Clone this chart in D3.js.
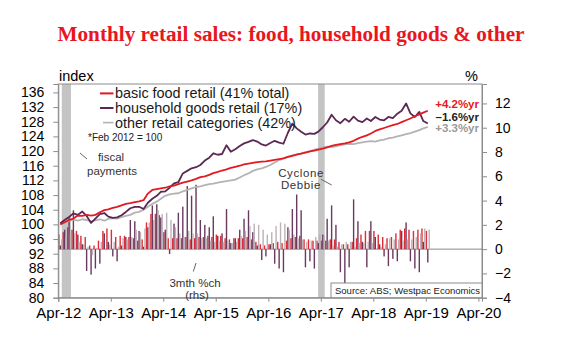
<!DOCTYPE html>
<html><head><meta charset="utf-8">
<script src="https://cdn.jsdelivr.net/npm/d3@7"></script>
<style>
body{margin:0;background:#fff;}
svg{display:block;}
text{font-family:"Liberation Sans",Arial,sans-serif;}
</style>
</head><body>
<svg id="c" width="580" height="352"></svg>
<script>
// ---------- DATA ----------
const firstMonth = [2012, 3]; // Apr 2012 (monthly data, plotted mid-month)
const seriesNames = ["basic food retail (41% total)", "household goods retail (17%)", "other retail categories (42%)"];
const endLabels = ["+4.2%yr", "\u20131.6%yr", "+3.3%yr"];

const foodIndex = [100.0,100.6,101.2,101.6,102.4,102.3,102.6,102.4,102.6,103.3,103.9,104.1,104.5,104.8,105.2,105.6,105.8,106.1,106.3,106.6,
  108.4,109.4,109.6,109.8,110.0,110.4,110.6,111.0,111.4,111.7,112.0,112.4,112.9,113.1,113.5,114.0,114.3,114.7,115.0,115.4,
  115.7,116.0,116.4,116.6,116.8,117.0,117.1,117.2,117.4,117.6,117.8,118.0,118.4,118.7,119.0,119.3,119.6,119.9,120.1,120.4,
  120.7,121.0,121.4,121.7,121.9,122.1,122.4,122.8,123.4,123.9,124.3,124.8,125.5,125.9,126.3,126.7,127.1,127.4,127.9,128.4,
  128.9,129.5,130.0,130.5,131.0];
const householdIndex = [100.3,101.2,102.0,103.0,102.6,103.5,102.3,100.4,101.6,102.8,103.1,102.1,101.8,101.9,102.5,103.4,104.4,104.8,104.8,104.2,
  105.9,107.0,107.8,108.9,109.0,110.0,111.2,111.5,113.9,114.6,115.3,115.6,116.2,117.4,118.2,119.4,119.0,119.2,121.6,119.8,
  120.5,121.4,122.1,122.5,123.0,122.6,121.8,121.5,122.2,122.8,122.3,122.0,125.0,127.5,126.2,125.3,124.5,124.8,124.7,125.3,
  126.5,127.8,129.9,128.4,127.6,128.8,128.0,129.4,128.3,127.9,128.9,128.2,129.3,128.6,128.4,129.3,129.0,130.2,131.0,133.0,
  130.3,129.3,130.7,128.2,127.5];
const otherIndex = [100.0,100.4,101.0,101.3,101.0,101.4,101.2,100.8,101.1,101.4,101.0,101.5,101.7,101.6,102.0,102.3,102.6,103.2,103.4,104.0,
  104.8,105.6,106.2,107.0,107.8,108.2,108.4,108.5,109.0,109.4,109.8,110.2,110.4,110.7,111.0,111.1,111.4,111.6,111.8,112.0,
  112.2,112.8,113.4,113.9,114.6,115.0,115.3,115.7,116.2,116.9,117.5,118.0,118.4,118.8,119.1,119.3,119.7,119.9,120.4,120.7,
  121.0,121.2,121.1,121.3,121.6,121.8,122.0,121.9,122.2,122.4,122.6,122.7,122.6,122.9,123.1,123.5,123.7,124.0,124.3,124.6,
  124.9,125.3,125.7,126.2,126.6];

// 3mth %ch (rhs)
const food3m = [1.2,1.4,1.8,1.6,1.5,1.1,1.0,0.3,0.3,0.7,1.5,1.7,1.6,1.0,1.1,1.1,1.0,0.9,0.7,0.8,
  2.2,2.9,2.9,2.8,1.4,0.9,0.9,0.9,0.9,1.0,0.8,0.9,1.0,1.0,1.1,1.0,1.2,1.1,0.9,0.8,
  0.9,0.9,0.9,1.0,0.8,0.6,0.4,0.3,0.4,0.5,0.6,0.5,0.7,0.9,1.0,1.1,0.8,0.8,0.7,0.7,
  0.7,0.7,0.8,0.8,0.6,0.4,0.4,0.6,0.9,1.2,1.5,1.5,1.5,1.2,1.0,0.9,1.0,1.3,1.6,1.7,
  1.6,1.5,1.6,1.7,1.5];
const household3m = [0.3,1.6,2.6,3.2,1.2,0.4,-1.8,-2.1,-1.6,-1.2,1.3,0.6,-0.6,-1.0,0.3,1.0,2.4,2.3,1.5,0.2,
  1.8,3.6,3.7,2.6,1.6,-0.4,2.1,3.0,3.5,5.2,4.4,5.3,2.4,2.0,1.8,2.7,1.1,1.3,3.3,0.5,
  0.9,1.6,2.5,3.2,1.4,0.3,-0.9,-0.6,0.4,-1.2,-1.6,-1.9,1.8,3.3,4.5,3.2,-1.5,-1.0,-1.6,0.5,
  1.2,2.5,3.6,2.0,-1.9,-3.1,-1.5,4.1,2.3,0.6,-1.5,2.3,1.0,0.4,-0.6,-1.4,-0.8,-1.0,1.5,2.2,
  -1.0,-1.6,-1.9,0.6,-1.1];
const other3m = [0.8,1.0,1.3,1.3,0.6,0.4,0.2,-0.5,0.1,0.6,-0.1,0.4,0.6,0.2,0.9,0.8,1.0,1.6,1.4,1.7,
  2.2,2.4,3.2,2.9,3.0,2.4,1.8,1.3,1.0,1.5,1.3,1.3,0.9,0.9,0.7,0.6,0.7,0.6,0.7,0.5,
  0.6,1.1,1.5,1.9,2.1,2.0,1.6,1.2,1.4,1.9,2.2,2.1,1.6,1.2,0.9,0.8,0.6,0.7,1.0,1.2,
  1.1,0.7,0.3,0.2,0.4,0.6,0.6,0.2,0.5,0.5,0.6,0.5,0.0,0.2,0.4,0.9,0.8,0.8,0.7,0.8,
  0.8,1.0,1.3,1.7,1.6];

const xTickLabels = ["Apr-12","Apr-13","Apr-14","Apr-15","Apr-16","Apr-17","Apr-18","Apr-19","Apr-20"];
const leftTicks = [80,84,88,92,96,100,104,108,112,116,120,124,128,132,136];
const rightTicks = [-4,-2,0,2,4,6,8,10,12];
const shadedPeriods = [["2012-04-25","2012-06-28"],["2017-03-13","2017-04-28"]];

// ---------- STYLE / LAYOUT ----------
const colors = ["#e3191f", "#5c2752", "#b3b3b3"];
const L = 58.3, R = 482, T = 84, B = 297.7;
const svg = d3.select("#c");
const parse = d3.timeParse("%Y-%m-%d");

const x = d3.scaleTime().domain([new Date(2012,3,1), new Date(2020,3,26)]).range([L, R]);
const yL = d3.scaleLinear().domain([80, 138.3]).range([B, T]);
const yR = d3.scaleLinear().domain([-4, 13.6]).range([B, T]);
const monthDate = i => d3.timeMonth.offset(new Date(firstMonth[0], firstMonth[1], 15), i);

// title
svg.append("text").attr("x", 291).attr("y", 41).attr("text-anchor", "middle")
  .style("font-family", "'Liberation Serif','Times New Roman',serif").style("font-weight", "bold")
  .style("font-size", "21.2px").attr("fill", "#e8161e")
  .text("Monthly retail sales: food, household goods & other");

// shaded bands
svg.append("g").selectAll("rect").data(shadedPeriods).join("rect")
  .attr("x", d => x(parse(d[0]))).attr("width", d => x(parse(d[1])) - x(parse(d[0])))
  .attr("y", T).attr("height", B - T).attr("fill", "#c4c4c4");

// zero line (rhs)
svg.append("line").attr("x1", L).attr("x2", R).attr("y1", yR(0)).attr("y2", yR(0))
  .attr("stroke", "#8a8a8a").attr("stroke-width", 1);

// bars
const barSets = [food3m, household3m, other3m];
const bw = 1.4;
barSets.forEach((arr, s) => {
  svg.append("g").selectAll("rect").data(arr).join("rect")
    .attr("x", (d, i) => x(monthDate(i)) - 2.1 + s * 1.4)
    .attr("width", bw)
    .attr("y", d => yR(Math.max(0, d)))
    .attr("height", d => Math.abs(yR(d) - yR(0)))
    .attr("fill", s === 0 ? "#df2c36" : s === 1 ? "#6a3a5e" : "#bcb2b8");
});

// lines
const idx = [otherIndex, householdIndex, foodIndex];
const idxColors = [colors[2], colors[1], colors[0]];
const line = d3.line().x((d, i) => x(monthDate(i))).y(d => yL(d));
idx.forEach((arr, k) => {
  svg.append("path").datum(arr).attr("d", line).attr("fill", "none")
    .attr("stroke", idxColors[k]).attr("stroke-width", 1.8).attr("stroke-linejoin", "round");
});

// frame
svg.append("rect").attr("x", L).attr("y", T).attr("width", R - L).attr("height", B - T)
  .attr("fill", "none").attr("stroke", "#8c8c8c").attr("stroke-width", 1);

// axes
const fmtAxis = g => {
  g.select(".domain").attr("stroke", "#8c8c8c");
  g.selectAll(".tick line").attr("stroke", "#8c8c8c");
  g.selectAll("text").style("font-family", "'Liberation Sans',Arial,sans-serif").attr("fill", "#000");
};
svg.append("g").attr("transform", `translate(${L},0)`)
  .call(d3.axisLeft(yL).tickValues(leftTicks).tickSize(5).tickPadding(9))
  .call(fmtAxis).selectAll("text").style("font-size", "14px");
svg.append("g").attr("transform", `translate(${R},0)`)
  .call(d3.axisRight(yR).tickValues(rightTicks).tickSize(5).tickPadding(8).tickFormat(d3.format("d")))
  .call(fmtAxis).selectAll("text").style("font-size", "14px");
const xAxisG = svg.append("g").attr("transform", `translate(0,${B})`)
  .call(d3.axisBottom(x).tickValues(xTickLabels.map((t, i) => new Date(2012 + i, 3, 1)))
    .tickFormat((d, i) => xTickLabels[i]).tickSize(4).tickPadding(6))
  .call(fmtAxis);
xAxisG.selectAll("text").style("font-size", "15px");

// axis titles
svg.append("text").attr("x", 59).attr("y", 81).style("font-size", "14.5px").text("index");
svg.append("text").attr("x", 478).attr("y", 81).attr("text-anchor", "end").style("font-size", "14.5px").text("%");

// legend
const lg = svg.append("g");
seriesNames.forEach((n, i) => {
  const yy = 93.4 + i * 14.6;
  lg.append("line").attr("x1", i === 2 ? 103 : 100).attr("x2", 113.5).attr("y1", yy).attr("y2", yy)
    .attr("stroke", colors[i]).attr("stroke-width", i === 2 ? 1.6 : 2);
  lg.append("text").attr("x", 115).attr("y", yy + 5).style("font-size", "14.4px").attr("fill", "#1a1a1a").text(n);
});
svg.append("text").attr("x", 88).attr("y", 141).style("font-size", "10px").attr("fill", "#222").text("*Feb 2012 = 100");

// end labels
const endColors = ["#e8161e", "#222", "#9a9a9a"];
endLabels.forEach((t, i) => {
  svg.append("text").attr("x", 479).attr("y", [108, 120.5, 131.5][i]).attr("text-anchor", "end")
    .style("font-size", "11.5px").style("font-weight", "bold").attr("fill", endColors[i]).text(t);
});

// annotations
const ann = svg.append("g").attr("fill", "#333").style("font-size", "11.5px");
ann.append("text").attr("x", 111).attr("y", 161).attr("text-anchor", "middle").text("fiscal");
ann.append("text").attr("x", 112).attr("y", 175).attr("text-anchor", "middle").text("payments");
ann.append("text").attr("x", 195).attr("y", 287).attr("text-anchor", "middle").text("3mth %ch");
ann.append("text").attr("x", 197).attr("y", 299).attr("text-anchor", "middle").text("(rhs)");
ann.append("text").attr("x", 301).attr("y", 177).attr("text-anchor", "middle").style("letter-spacing", "0.6px").text("Cyclone");
ann.append("text").attr("x", 301).attr("y", 189).attr("text-anchor", "middle").style("letter-spacing", "0.6px").text("Debbie");
const leaders = [[80,153,87,159],[196,263,193.3,271.5],[321,179.3,331.7,185]];
svg.append("g").selectAll("line").data(leaders).join("line")
  .attr("x1", d => d[0]).attr("y1", d => d[1]).attr("x2", d => d[2]).attr("y2", d => d[3])
  .attr("stroke", "#666").attr("stroke-width", 1);

// source box
svg.append("rect").attr("x", 331).attr("y", 283).attr("width", R - 331).attr("height", B - 283)
  .attr("fill", "#fff").attr("stroke", "#8c8c8c").attr("stroke-width", 1);
svg.append("text").attr("x", 335).attr("y", 294).style("font-size", "9.5px").attr("fill", "#222")
  .text("Source: ABS; Westpac Economics");
</script>
</body></html>
